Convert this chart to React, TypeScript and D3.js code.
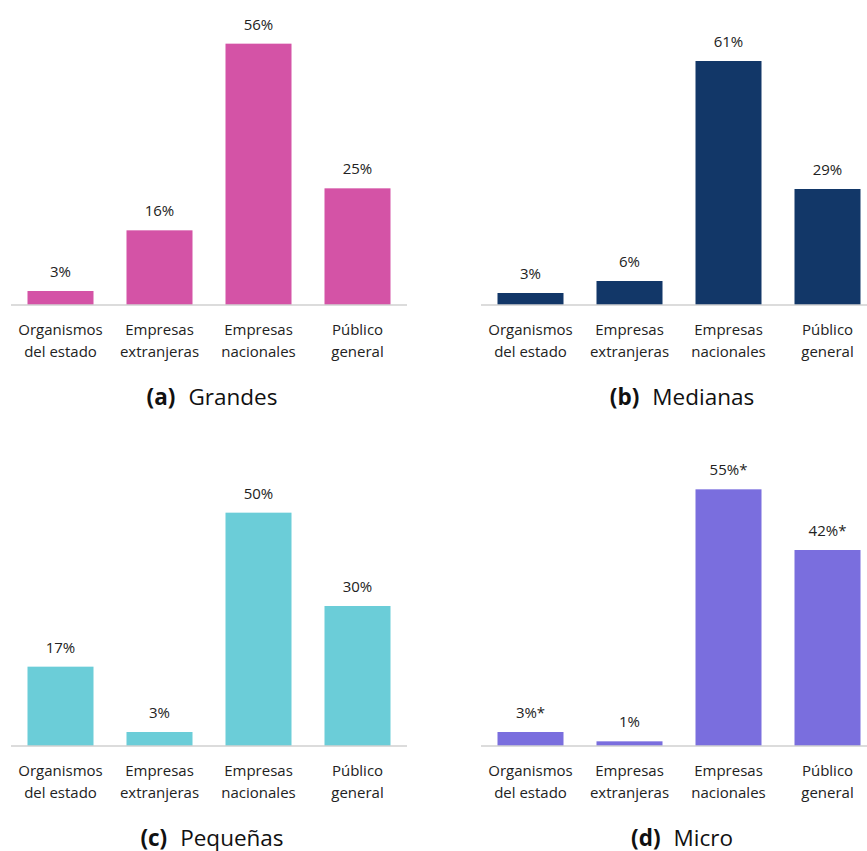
import React from "react";
import * as d3 from "d3";

// Categories shared by every panel
const categories = [
  ["Organismos", "del estado"],
  ["Empresas", "extranjeras"],
  ["Empresas", "nacionales"],
  ["Público", "general"],
];

// Percentages per company size
const grandesValues = [3, 16, 56, 25];
const medianasValues = [3, 6, 61, 29];
const pequenasValues = [17, 3, 50, 30];
const microValues = [3, 1, 55, 42];

// Value labels (asterisks mark low-precision estimates)
const grandesLabels = ["3%", "16%", "56%", "25%"];
const medianasLabels = ["3%", "6%", "61%", "29%"];
const pequenasLabels = ["17%", "3%", "50%", "30%"];
const microLabels = ["3%*", "1%", "55%*", "42%*"];

const panelLetters = ["(a)", "(b)", "(c)", "(d)"];
const panelTitles = ["Grandes", "Medianas", "Pequeñas", "Micro"];
const panelColors = ["#D453A6", "#123768", "#6BCDD8", "#7A6EDE"];
const panelYMax = [60, 70, 60, 60];

const W = 867;
const H = 851;
const FONT = "'Open Sans', 'DejaVu Sans', sans-serif";

type PanelProps = {
  x0: number;
  axisY: number;
  values: number[];
  labels: string[];
  color: string;
  yMax: number;
  letter: string;
  title: string;
};

function Panel({ x0, axisY, values, labels, color, yMax, letter, title }: PanelProps) {
  const plotH = 280;
  const bandW = 99;
  const x = d3
    .scaleBand<number>()
    .domain(d3.range(categories.length))
    .range([x0, x0 + bandW * categories.length])
    .paddingInner(1 / 3)
    .paddingOuter(1 / 6);
  const y = d3.scaleLinear().domain([0, yMax]).range([axisY, axisY - plotH]);
  const [r0, r1] = x.range();
  const centerX = (r0 + r1) / 2 + 3;

  return (
    <g>
      {values.map((v, i) => (
        <g key={i}>
          <rect
            x={x(i)!}
            y={y(v)}
            width={x.bandwidth()}
            height={y(0) - y(v)}
            fill={color}
          />
          <text
            x={x(i)! + x.bandwidth() / 2}
            y={y(v) - 14}
            textAnchor="middle"
            fontSize={15}
            fill="#222"
          >
            {labels[i]}
          </text>
          <text
            x={x(i)! + x.bandwidth() / 2}
            y={axisY + 30}
            textAnchor="middle"
            fontSize={15}
            fill="#222"
          >
            <tspan x={x(i)! + x.bandwidth() / 2}>{categories[i][0]}</tspan>
            <tspan x={x(i)! + x.bandwidth() / 2} dy={22}>
              {categories[i][1]}
            </tspan>
          </text>
        </g>
      ))}
      <line x1={r0} x2={r1} y1={axisY} y2={axisY} stroke="#d0d0d0" strokeWidth={1.5} />
      <text x={centerX} y={axisY + 100} textAnchor="middle" fontSize={22.5} fill="#111">
        <tspan fontWeight="bold">{letter}</tspan>
        <tspan dx={13}>{title}</tspan>
      </text>
    </g>
  );
}

export default function App() {
  const panels = [
    { x0: 11, axisY: 305, values: grandesValues, labels: grandesLabels },
    { x0: 481, axisY: 305, values: medianasValues, labels: medianasLabels },
    { x0: 11, axisY: 746, values: pequenasValues, labels: pequenasLabels },
    { x0: 481, axisY: 746, values: microValues, labels: microLabels },
  ];
  return (
    <svg
      width={W}
      height={H}
      style={{ position: "absolute", left: 0, top: 0, background: "#fff" }}
      fontFamily={FONT}
    >
      <rect width={W} height={H} fill="#fff" />
      {panels.map((p, i) => (
        <Panel
          key={i}
          x0={p.x0}
          axisY={p.axisY}
          values={p.values}
          labels={p.labels}
          color={panelColors[i]}
          yMax={panelYMax[i]}
          letter={panelLetters[i]}
          title={panelTitles[i]}
        />
      ))}
    </svg>
  );
}
